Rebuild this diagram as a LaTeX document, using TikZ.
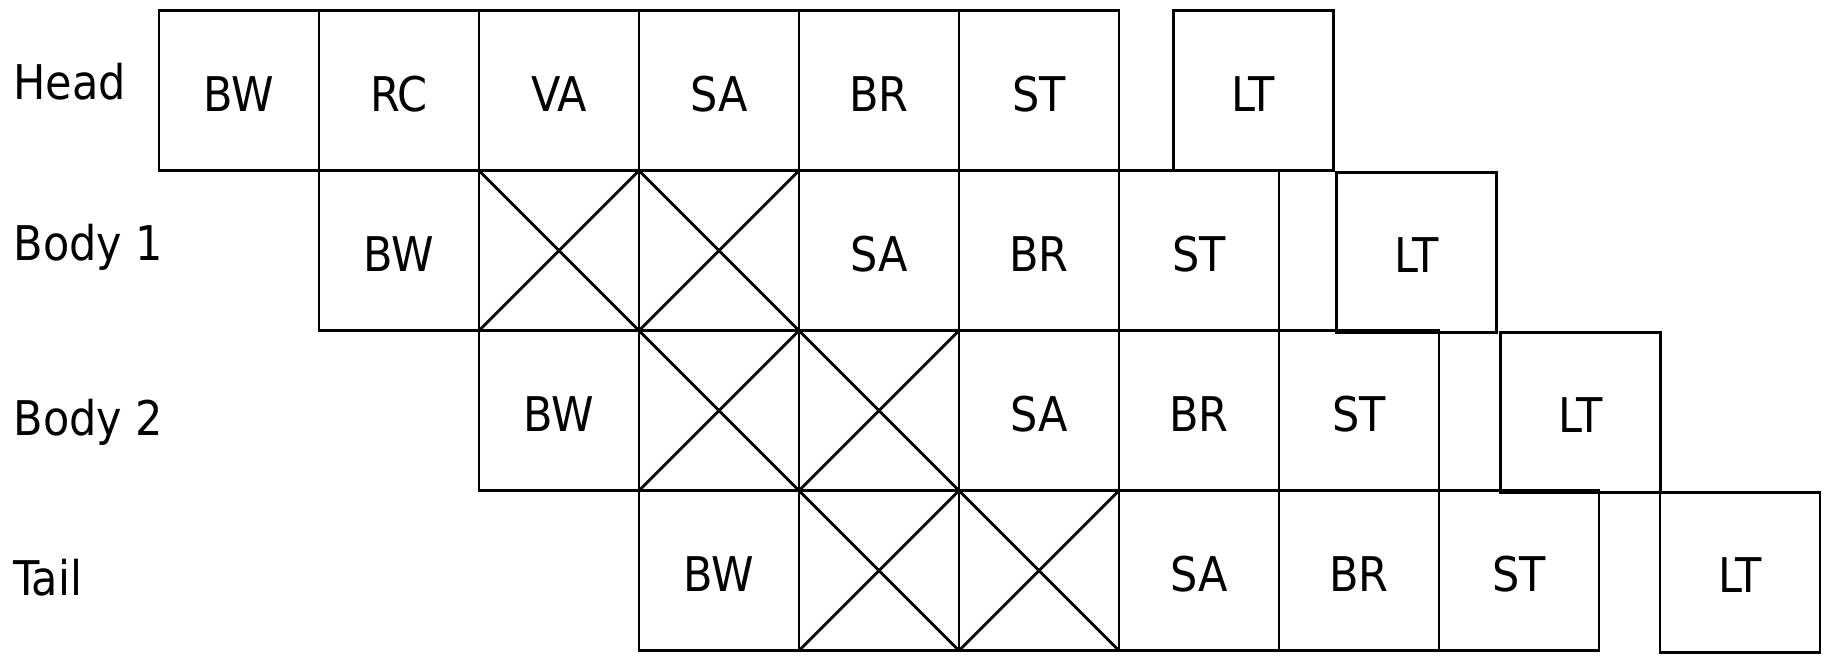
\documentclass[tikz,border=0pt]{standalone}
\usepackage{fontspec}
\setmainfont{DejaVu Sans Condensed}
\usetikzlibrary{positioning}

\begin{document}
\begin{tikzpicture}[x=2cm, y=2cm,
    cell/.style={draw, line width=1pt, minimum size=2cm, inner sep=0pt, outer sep=0pt,
      text height=14.6pt, text depth=0pt, font=\fontsize{17pt}{20pt}\selectfont},
    crossed/.style={cell, path picture={
        \draw[line width=1pt] (path picture bounding box.north west) -- (path picture bounding box.south east)
          (path picture bounding box.south west) -- (path picture bounding box.north east);}},
    lbl/.style={anchor=base west, inner sep=0pt, font=\fontsize{17pt}{20pt}\selectfont}]
    \useasboundingbox (-0.994,0.066) rectangle (10.4125,-4.034);
    % head row
    \foreach \t [count=\i from 0] in {BW,RC,VA,SA,BR,ST}
      \node[cell] (h\i) at (\i+0.5,-0.5) {\t};
    \node[cell] (hlt) at (6.839,-0.5) {LT};
    % body and tail rows, each one column further right
    \foreach \r/\nm/\lt in {1/ba/7.86, 2/bb/8.886, 3/tl/9.881} {
      \node[cell] (\nm0) at (\r+0.5,-\r-0.5) {BW};
      \node[crossed] (\nm1) at (\r+1.5,-\r-0.5) {};
      \node[crossed] (\nm2) at (\r+2.5,-\r-0.5) {};
      \node[cell] (\nm3) at (\r+3.5,-\r-0.5) {SA};
      \node[cell] (\nm4) at (\r+4.5,-\r-0.5) {BR};
      \node[cell] (\nm5) at (\r+5.5,-\r-0.5) {ST};
      \node[cell] (\nm lt) at (\lt,-\r-0.51) {LT};
    }
    % row labels
    \node[lbl] (head) at (-0.9125,-0.553) {Head};
    \node[lbl] (body1) at (-0.9125,-1.56) {Body 1};
    \node[lbl] (body2) at (-0.9125,-2.653) {Body 2};
    \node[lbl] (tail) at (-0.9125,-3.653) {Tail};
\end{tikzpicture}
\end{document}
